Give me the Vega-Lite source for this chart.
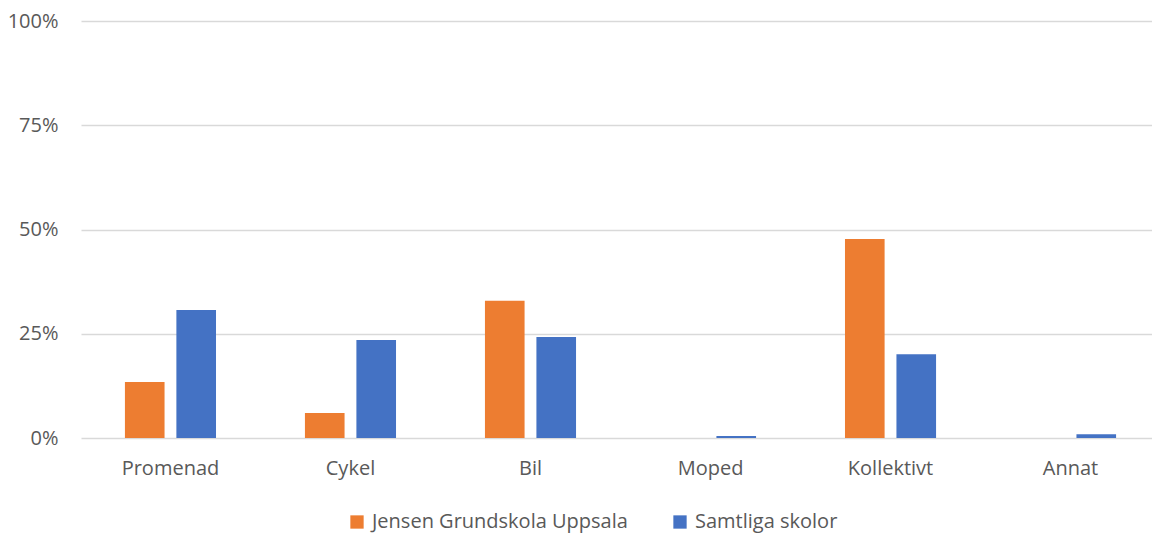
{
  "$schema": "https://vega.github.io/schema/vega-lite/v6.json",
  "width": 1071,
  "height": 417,
  "autosize": {"type": "none"},
  "padding": {"left": 81, "top": 21, "right": 0, "bottom": 95},
  "config": {
    "view": {"stroke": null},
    "font": "Open Sans",
    "axis": {"labelFont": "Open Sans", "labelColor": "#595959", "labelFontSize": 20},
    "legend": {"labelFont": "Open Sans", "labelColor": "#595959", "labelFontSize": 20}
  },
  "data": {
    "values": [
      {"kategori": "Promenad", "grupp": "Jensen Grundskola Uppsala", "andel": 0.134},
      {"kategori": "Promenad", "grupp": "Samtliga skolor", "andel": 0.307},
      {"kategori": "Cykel", "grupp": "Jensen Grundskola Uppsala", "andel": 0.06},
      {"kategori": "Cykel", "grupp": "Samtliga skolor", "andel": 0.235},
      {"kategori": "Bil", "grupp": "Jensen Grundskola Uppsala", "andel": 0.329},
      {"kategori": "Bil", "grupp": "Samtliga skolor", "andel": 0.242},
      {"kategori": "Moped", "grupp": "Jensen Grundskola Uppsala", "andel": 0.0},
      {"kategori": "Moped", "grupp": "Samtliga skolor", "andel": 0.005},
      {"kategori": "Kollektivt", "grupp": "Jensen Grundskola Uppsala", "andel": 0.477},
      {"kategori": "Kollektivt", "grupp": "Samtliga skolor", "andel": 0.201},
      {"kategori": "Annat", "grupp": "Jensen Grundskola Uppsala", "andel": 0.0},
      {"kategori": "Annat", "grupp": "Samtliga skolor", "andel": 0.009}
    ]
  },
  "mark": {"type": "bar"},
  "encoding": {
    "x": {
      "field": "kategori", "type": "nominal",
      "sort": ["Promenad", "Cykel", "Bil", "Moped", "Kollektivt", "Annat"],
      "scale": {"range": [0, 1079], "paddingInner": 0.494, "paddingOuter": 0.244},
      "axis": {"title": null, "labelAngle": 0, "domain": false, "ticks": false, "labelPadding": 20}
    },
    "xOffset": {
      "field": "grupp", "type": "nominal",
      "scale": {"paddingInner": 0.23, "paddingOuter": 0}
    },
    "y": {
      "field": "andel", "type": "quantitative",
      "scale": {"domain": [0, 1], "nice": false},
      "axis": {"title": null, "format": ".0%", "values": [0, 0.25, 0.5, 0.75, 1], "domain": false, "ticks": false, "labelPadding": 23, "gridColor": "#d9d9d9", "gridWidth": 1.3}
    },
    "color": {
      "field": "grupp", "type": "nominal",
      "scale": {"domain": ["Jensen Grundskola Uppsala", "Samtliga skolor"], "range": ["#ED7D31", "#4472C4"]},
      "legend": {"title": null, "orient": "none", "legendX": 266, "legendY": 491, "direction": "horizontal", "symbolType": "square", "symbolSize": 177, "symbolStrokeWidth": 0, "labelOffset": 5, "labelLimit": 0, "columnPadding": 42}
    }
  }
}
